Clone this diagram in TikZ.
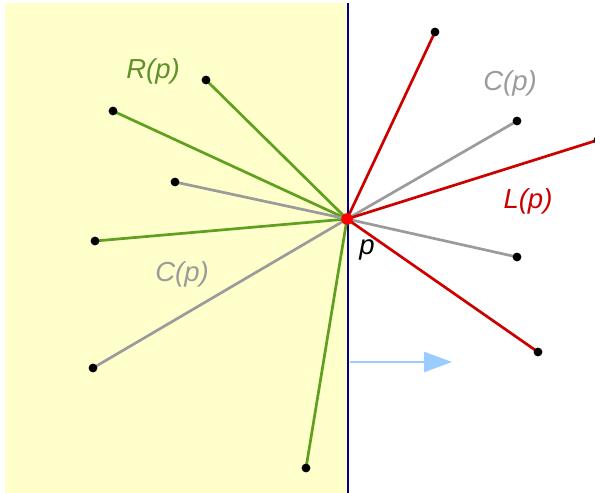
\documentclass[tikz,border=0pt]{standalone}
\usepackage{fontspec}
\setmainfont{Liberation Sans}
\usetikzlibrary{arrows.meta}
\definecolor{ygreen}{RGB}{95,160,30}
\definecolor{lgreen}{RGB}{95,145,40}
\definecolor{cgray}{RGB}{155,155,155}
\definecolor{cred}{RGB}{205,0,0}
\definecolor{cyell}{RGB}{255,255,204}
\definecolor{cnavy}{RGB}{0,0,128}
\definecolor{cblue}{RGB}{153,204,255}
\tikzset{
  seg/.style={line width=2.7pt},
  rseg/.style={seg,ygreen},
  cseg/.style={seg,cgray},
  lseg/.style={seg,cred},
  lbl/.style={font=\fontsize{27.5}{30}\selectfont\itshape},
}
\begin{document}
\begin{tikzpicture}[x=1pt,y=-1pt]
\useasboundingbox (0,0) rectangle (595,493);
\fill[cyell] (5,3) rectangle (347,493);
\coordinate (top) at (348,3);
\coordinate (bot) at (348,493);
\draw[cnavy,line width=2.5pt] (top) -- (bot);
% arrow
\coordinate (a0) at (350,362);
\coordinate (a1) at (452,362);
\draw[cblue,line width=2.5pt,-{Triangle[length=28pt,width=20pt]}] (a0) -- (a1);
\coordinate (p) at (347,219);
% endpoints
\coordinate (r1) at (206,80);
\coordinate (r2) at (113,111);
\coordinate (r3) at (95,241);
\coordinate (r4) at (306,468);
\coordinate (c1) at (175,182);
\coordinate (c2) at (93,368);
\coordinate (c3) at (517,121);
\coordinate (c4) at (517,257);
\coordinate (l1) at (435,32);
\coordinate (l2) at (598,140);
\coordinate (l3) at (538,352);
\foreach \e in {r1,r2,r3,r4} \draw[rseg] (p) -- (\e);
\foreach \e in {c1,c2,c3,c4} \draw[cseg] (p) -- (\e);
\foreach \e in {l1,l2,l3} \draw[lseg] (p) -- (\e);
\foreach \e in {r1,r2,r3,r4,c1,c2,c3,c4,l1,l2,l3} \fill[black] (\e) circle (4.4pt);
\fill[red] (p) circle (5.8pt);
\node[lbl,text=lgreen] (lr) at (153,71) {R(p)};
\node[lbl,text=cgray] (lc1) at (182,274) {C(p)};
\node[lbl,text=cgray] (lc2) at (510,83) {C(p)};
\node[lbl,text=cred] (ll) at (528,201) {L(p)};
\node[lbl,text=black] (lp) at (367,250) {p};
\end{tikzpicture}
\end{document}
